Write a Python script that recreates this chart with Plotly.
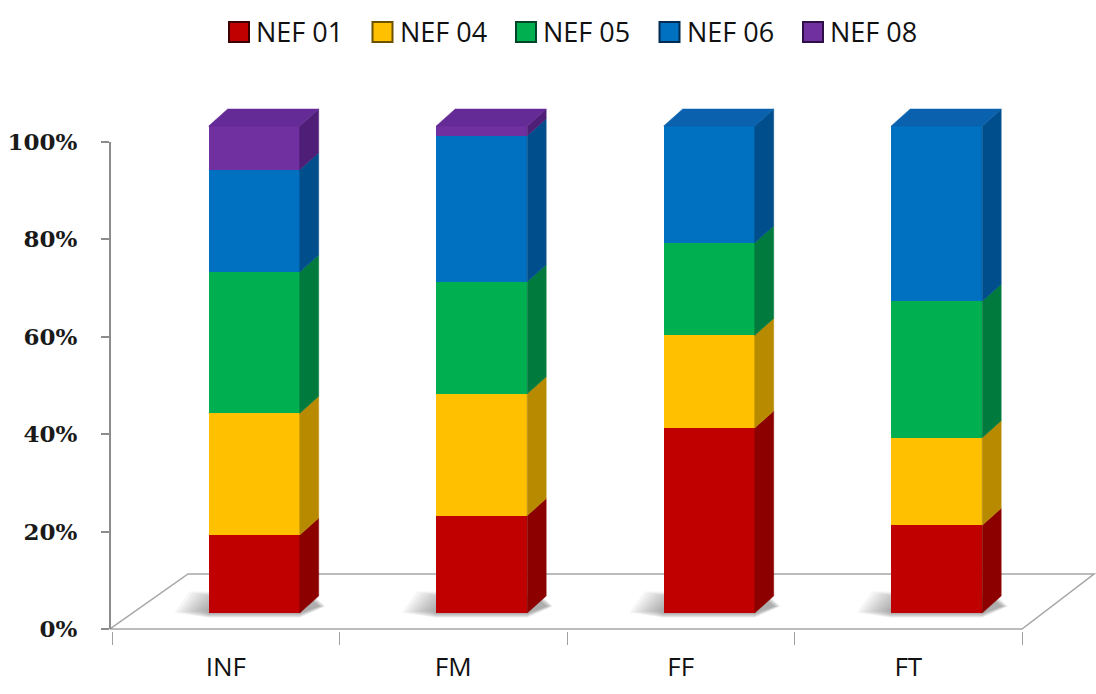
import numpy as np
import plotly.graph_objects as go

# ---- data -------------------------------------------------------------
categories = ["INF", "FM", "FF", "FT"]
series_names = ["NEF 01", "NEF 04", "NEF 05", "NEF 06", "NEF 08"]
nef01 = [16, 20, 38, 18]
nef04 = [25, 25, 19, 18]
nef05 = [29, 23, 19, 28]
nef06 = [21, 30, 24, 36]
nef08 = [9, 2, 0, 0]
y_ticks = [0, 20, 40, 60, 80, 100]
y_ticklabels = ["0%", "20%", "40%", "60%", "80%", "100%"]

series_values = [nef01, nef04, nef05, nef06, nef08]

# ---- styling ----------------------------------------------------------
front_colors = ["#C00000", "#FFC000", "#00B050", "#0070C0", "#7030A0"]
side_colors = ["#8C0000", "#B88A00", "#007A3D", "#004F8C", "#4F1F78"]
top_colors = ["#A80000", "#E6AC00", "#009A4A", "#0A62AE", "#642A96"]
swatch_edges = ["#3A0000", "#6B5200", "#00452A", "#002A50", "#2E1048"]

W, H = 1096, 694
M_L, M_R, M_T, M_B = 110, 0, 95, 63
PX_PER_CAT = 227.5          # pixels per category slot
PX_PER_PCT = 4.87           # pixels per percentage point
plot_w = W - M_L - M_R
plot_h = H - M_T - M_B

x_lo = -0.5 - 2 / PX_PER_CAT
x_range = [x_lo, x_lo + plot_w / PX_PER_CAT]
y_lo = -2 / PX_PER_PCT
y_range = [y_lo, y_lo + plot_h / PX_PER_PCT]

BAR_W = 0.40                # front face width (category units)
BAR_OFF = -0.075            # front face start relative to category centre
DX = 19 / PX_PER_CAT        # bar depth, horizontal component
DY = 17 / PX_PER_PCT        # bar depth, vertical component
LIFT = 16 / PX_PER_PCT      # front faces stand part way back on the floor
FLOOR_DX_L = 78 / PX_PER_CAT
FLOOR_DX_R = 72 / PX_PER_CAT
FLOOR_DY = 55 / PX_PER_PCT

FONT_SANS = "Open Sans, sans-serif"
FONT_SERIF = "DejaVu Serif, serif"


def px_to_paper_x(px):
    return (px - M_L) / plot_w


def px_to_paper_y(py):
    return (H - M_B - py) / plot_h


# cumulative bases for the stacked segments
vals = np.array(series_values, dtype=float)
bases = LIFT + np.vstack([np.zeros(len(categories)), np.cumsum(vals, axis=0)[:-1]])
totals = vals.sum(axis=0)

fig = go.Figure()

for k, name in enumerate(series_names):
    fig.add_trace(go.Bar(
        x=categories,
        y=vals[k],
        base=bases[k],
        offset=BAR_OFF,
        width=BAR_W,
        name=name,
        marker=dict(color=front_colors[k], line=dict(width=0)),
        showlegend=False,
        hovertemplate="%{x}: %{y}%<extra>" + name + "</extra>",
    ))

shapes = []

# floor of the 3-D plot area
x_front_l, x_front_r = x_lo, 3.5
shapes.append(dict(
    type="path", xref="x", yref="y", layer="below",
    path=(f"M{x_front_l},0 L{x_front_l + FLOOR_DX_L},{FLOOR_DY} "
          f"L{x_front_r + FLOOR_DX_R},{FLOOR_DY} L{x_front_r},0 Z"),
    fillcolor="white", line=dict(color="#A6A6A6", width=1.5),
))

# soft shadows cast on the floor, built from stacked translucent layers
for i in range(len(categories)):
    xl = i + BAR_OFF
    xr = xl + BAR_W
    for s in np.linspace(1.0, 0.1, 10):
        w = 0.15 * s
        pad = 1.6 * s
        shapes.append(dict(
            type="path", xref="x", yref="y", layer="below",
            path=(f"M{xl - w},{LIFT + 0.6 - pad * 0.3} "
                  f"L{xl - w + DX * 0.8},{LIFT + DY * 0.8 + pad} "
                  f"L{xr + DX * 0.5},{LIFT + DY * 0.8 + pad} "
                  f"L{xr + DX + 0.03 * s},{LIFT + DY * 0.4} "
                  f"L{xr},{LIFT - pad * 0.6} L{xl},{LIFT - pad * 0.6} Z"),
            fillcolor="rgba(80,80,80,0.055)", line=dict(width=0),
        ))

# side and top faces of each bar
for i in range(len(categories)):
    xl = i + BAR_OFF
    xr = xl + BAR_W
    top_k = None
    for k in range(len(series_names)):
        v = vals[k][i]
        if v <= 0:
            continue
        b = bases[k][i]
        top_k = k
        shapes.append(dict(
            type="path", xref="x", yref="y", layer="above",
            path=(f"M{xr},{b} L{xr + DX},{b + DY} "
                  f"L{xr + DX},{b + v + DY} L{xr},{b + v} Z"),
            fillcolor=side_colors[k], line=dict(color=side_colors[k], width=0.5),
        ))
    top = LIFT + totals[i]
    shapes.append(dict(
        type="path", xref="x", yref="y", layer="above",
        path=(f"M{xl},{top} L{xl + DX},{top + DY} "
              f"L{xr + DX},{top + DY} L{xr},{top} Z"),
        fillcolor=top_colors[top_k], line=dict(color=top_colors[top_k], width=0.5),
    ))

# value axis line
shapes.append(dict(
    type="line", xref="paper", yref="y", x0=0, x1=0, y0=0, y1=100,
    line=dict(color="#8C8C8C", width=2),
))

# legend
annotations = []
leg_left, leg_step, sw = 229, 143.5, 20
leg_top = 22
for k, name in enumerate(series_names):
    sx = leg_left + k * leg_step
    shapes.append(dict(
        type="rect", xref="paper", yref="paper",
        x0=px_to_paper_x(sx), x1=px_to_paper_x(sx + sw),
        y0=px_to_paper_y(leg_top + sw), y1=px_to_paper_y(leg_top),
        fillcolor=front_colors[k], line=dict(color=swatch_edges[k], width=2),
    ))
    annotations.append(dict(
        xref="paper", yref="paper", x=px_to_paper_x(sx + sw + 5),
        y=px_to_paper_y(leg_top + sw / 2), xanchor="left", yanchor="middle",
        text=name, showarrow=False,
        font=dict(family=FONT_SANS, size=27, color="#111111"),
    ))

fig.update_layout(
    width=W, height=H,
    margin=dict(l=M_L, r=M_R, t=M_T, b=M_B, pad=0),
    paper_bgcolor="white", plot_bgcolor="white",
    barmode="overlay",
    bargap=0,
    showlegend=False,
    shapes=shapes,
    annotations=annotations,
    xaxis=dict(
        type="category", categoryorder="array", categoryarray=categories,
        range=x_range, tickson="boundaries",
        ticks="outside", ticklen=13, tickwidth=1, tickcolor="#A0A0A0",
        showgrid=False, showline=False, zeroline=False,
        tickfont=dict(family=FONT_SANS, size=26, color="#111111"),
        ticklabelstandoff=18,
        fixedrange=True,
    ),
    yaxis=dict(
        range=y_range, tickvals=y_ticks, ticktext=y_ticklabels,
        ticks="outside", ticklen=8, tickwidth=1.5, tickcolor="#8C8C8C",
        showgrid=False, showline=False, zeroline=False,
        tickfont=dict(family=FONT_SERIF, size=23, color="#1A1A1A", weight="bold"),
        ticklabelstandoff=19,
        fixedrange=True,
    ),
)

fig.write_html("out.html")
